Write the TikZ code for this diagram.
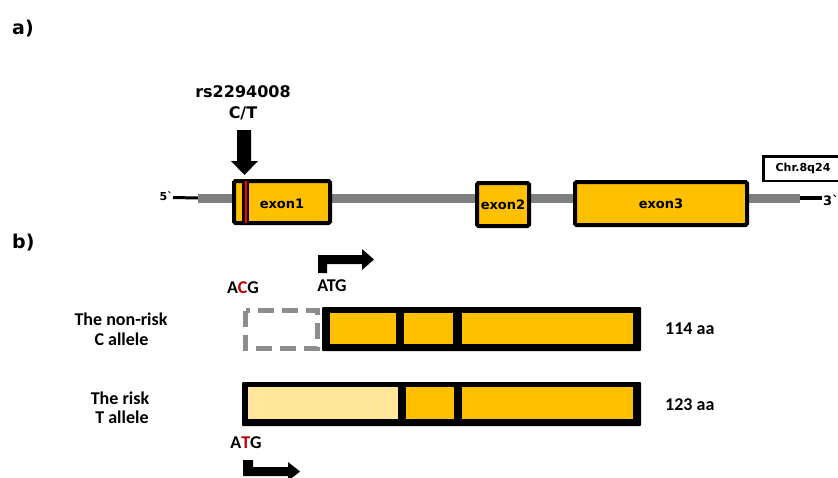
\documentclass[tikz,border=0pt]{standalone}
\usepackage{fontspec}
\newfontfamily\dv{DejaVu Sans}
\newfontfamily\cb{Carlito}
\definecolor{exonor}{HTML}{FFC000}
\definecolor{lightor}{HTML}{FFE699}
\definecolor{geneg}{HTML}{808080}
\definecolor{dashg}{HTML}{8C8C8C}
\definecolor{snpred}{HTML}{C00000}
\begin{document}
\begin{tikzpicture}[x=1pt,y=-1pt,
  panel/.style={font=\dv\bfseries\fontsize{19}{21}\selectfont, inner sep=0, anchor=west},
  snptxt/.style={font=\dv\bfseries\fontsize{16}{18}\selectfont, inner sep=0, anchor=base},
  exontxt/.style={font=\dv\bfseries\fontsize{13}{15}\selectfont, inner sep=0},
  endtxt/.style={font=\dv\bfseries\fontsize{11}{13}\selectfont, inner sep=0},
  btxt/.style={font=\cb\bfseries\fontsize{18}{20}\selectfont, inner sep=0, anchor=base},
  exonbox/.style={draw=black, line width=4pt, fill=exonor, rounded corners=1.5pt},
  bararrow/.style={fill=black, draw=none},
  barfill/.style={fill=exonor, draw=none},
]
\useasboundingbox[fill=white] (0,0) rectangle (838,477);

% ---------- a) ----------
\node[panel] (pa) at (12,29) {a)};
\node[snptxt] (rs) at (243,97) {rs2294008};
\node[snptxt] (ct) at (243,118) {C/T};
\fill[bararrow] (237,130) -- (251,130) -- (251,161) -- (258,161) -- (244.5,175) -- (231,161) -- (237,161) -- cycle;

% gene line
\coordinate (g5) at (173,197.5);
\coordinate (gs) at (198,198);
\coordinate (ge) at (800,198);
\coordinate (g3) at (822,198);
\draw[line width=3pt] (g5) -- (gs);
\draw[line width=9pt, geneg] (gs) -- (ge);
\draw[line width=3.5pt] (ge) -- (g3);
\node[endtxt, anchor=east] (p5) at (173,196) {5ˋ};
\node[endtxt, anchor=west, font=\dv\bfseries\fontsize{13}{15}\selectfont] (p3) at (823,200) {3ˋ};

% exons
\draw[exonbox] (234,181) rectangle (330,223);
\fill[black] (242,181) rectangle (249,223);
\fill[red] (244.5,181) rectangle (246.5,223);
\draw[exonbox] (477,183) rectangle (529,226);
\draw[exonbox] (575,182) rectangle (747,225);
\node[exontxt] (e1) at (282,204) {exon1};
\node[exontxt] (e2) at (503,205) {exon2};
\node[exontxt] (e3) at (661,204) {exon3};

% chromosome label
\draw[line width=2.5pt] (842,156.25) -- (763.25,156.25) -- (763.25,180.75) -- (842,180.75);
\node[endtxt] (chr) at (803,168) {Chr.8q24};

% ---------- b) ----------
\node[panel] (pb) at (12,243) {b)};

% start arrow (ATG, non-risk)
\fill[bararrow] (318,273) -- (318,255) -- (362,255) -- (362,249) -- (374,259.5) -- (362,270) -- (362,264) -- (327,264) -- (327,273) -- cycle;
\node[btxt] (acg) at (243,293) {A\textcolor{snpred}{C}G};
\node[btxt] (atg1) at (332,291) {ATG};

% non-risk C allele
\node[btxt] (c1) at (121,325) {The non-risk};
\node[btxt] (c2) at (121.5,345) {C allele};
\draw[dashg, line width=5pt, dash pattern=on 16pt off 8pt] (245.5,310.5) rectangle (317.5,348.5);
\fill[black, rounded corners=1pt] (322,307) rectangle (641,351);
\fill[barfill] (330,313) rectangle (396,344);
\fill[barfill] (404,313) rectangle (453,344);
\fill[barfill] (462,313) rectangle (633,344);
\node[btxt, anchor=base west] (aa1) at (665,334) {114 aa};

% risk T allele
\node[btxt] (t1) at (120,404) {The risk};
\node[btxt] (t2) at (122,423) {T allele};
\fill[black, rounded corners=1pt] (242,382) rectangle (641,426);
\fill[lightor] (248,387) rectangle (398,419);
\fill[barfill] (406,387) rectangle (454,419);
\fill[barfill] (462,387) rectangle (633,419);
\node[btxt, anchor=base west] (aa2) at (665,410) {123 aa};

\node[btxt] (atg2) at (246,448) {A\textcolor{snpred}{T}G};
\fill[bararrow] (243,460) -- (253,460) -- (253,467) -- (288,467) -- (288,462) -- (300,471.5) -- (288,481) -- (288,476) -- (243,476) -- cycle;
\end{tikzpicture}
\end{document}
